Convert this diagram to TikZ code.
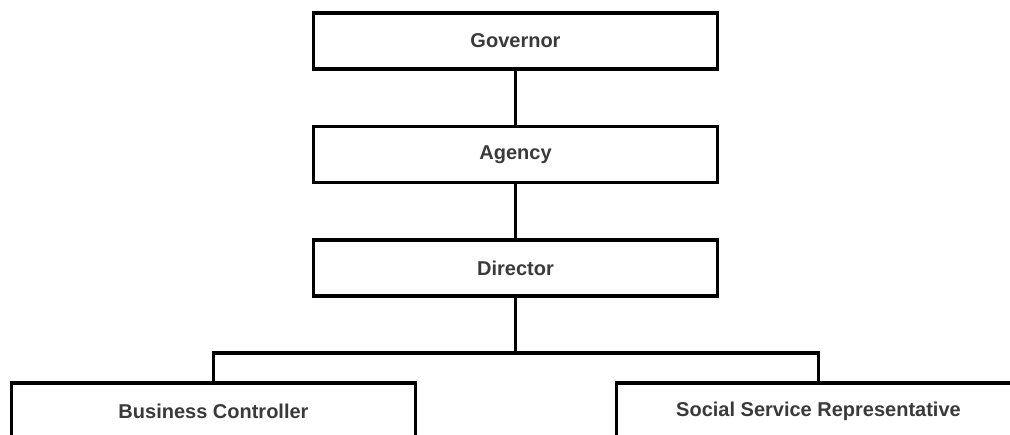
\documentclass[tikz,border=0pt]{standalone}
\usepackage{fontspec}
\setmainfont{Liberation Sans}
\definecolor{labelgray}{HTML}{3A3A3A}
\tikzset{
    post/.style={draw=black, line width=2.4pt, fill=white, minimum width=303pt,
        minimum height=42pt, inner sep=0pt, text=labelgray,
        font=\fontsize{15}{18}\selectfont\bfseries},
    link/.style={draw=black, line width=2.4pt}
}
\begin{document}
\begin{tikzpicture}[x=0.75pt, y=-0.75pt]
        \useasboundingbox (0, 0) rectangle (1010, 435);
        \clip (0, 0) rectangle (1010, 435);
        
        \node[post] (gov) at (515.5, 41) {Governor};
        \node[post] (agency) at (515.5, 154.5) {Agency};
        \node[post] (dir) at (515.5, 268) {Director};
        
        \node[post] (bc) at (213.5, 411) {Business Controller};
        \node[post] (ssr) at (818.5, 411) {Social Service Representative};
        
        \coordinate (bar) at (515.5, 353);
        
        \draw[link] (gov) -- (agency);
        \draw[link] (agency) -- (dir);
        \draw[link] (dir) -- (bar);
        \draw[link] (bc.north) |- (bar) -| (ssr.north);
        
    \end{tikzpicture}
\end{document}
